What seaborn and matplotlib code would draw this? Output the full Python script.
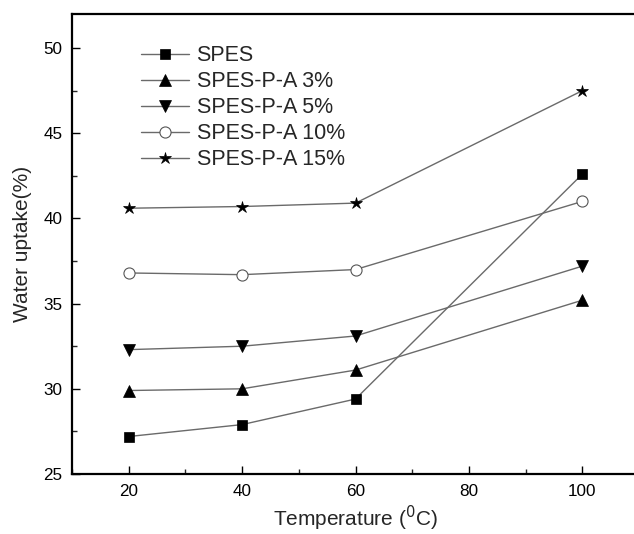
import matplotlib
matplotlib.use("Agg")
import matplotlib.pyplot as plt
import seaborn as sns
import pandas as pd
from matplotlib.ticker import MultipleLocator

temps = [20, 40, 60, 100]
spes = [27.2, 27.9, 29.4, 42.6]
pa3 = [29.9, 30.0, 31.1, 35.2]
pa5 = [32.3, 32.5, 33.1, 37.2]
pa10 = [36.8, 36.7, 37.0, 41.0]
pa15 = [40.6, 40.7, 40.9, 47.5]
labels = ["SPES", "SPES-P-A 3%", "SPES-P-A 5%", "SPES-P-A 10%", "SPES-P-A 15%"]

sns.set_style("ticks")
plt.rcParams['font.family'] = ['Liberation Sans', 'DejaVu Sans']

fig = plt.figure(figsize=(6.34, 5.34), dpi=100)
ax = fig.add_axes([72/634, 1-474/534, (639-72)/634, (474-14)/534])

series = [spes, pa3, pa5, pa10, pa15]
markers = ['s', '^', 'v', 'o', '*']
msizes = [6.5, 8, 8, 8, 9]
faces = ['black', 'black', 'black', 'white', 'black']
for vals, lab, m, ms, fc in zip(series, labels, markers, msizes, faces):
    sns.lineplot(x=temps, y=vals, ax=ax, label=lab, color='#6a6a6a', linewidth=1,
                 marker=m, markersize=ms, markerfacecolor=fc,
                 markeredgecolor='black' if fc == 'black' else '#555555',
                 markeredgewidth=0.8 if fc == 'white' else 0.5)

ax.set_xlim(10, 110)
ax.set_ylim(25, 52)
ax.set_xticks([20, 40, 60, 80, 100])
ax.set_yticks([25, 30, 35, 40, 45, 50])
ax.xaxis.set_minor_locator(MultipleLocator(10))
ax.yaxis.set_minor_locator(MultipleLocator(2.5))
ax.tick_params(which='major', direction='in', length=6, width=1, labelsize=12.3, colors='black', pad=7)
ax.tick_params(which='minor', direction='in', length=3.5, width=1)
ax.tick_params(top=False, right=False)
for s in ax.spines.values():
    s.set_linewidth(1.6)
    s.set_color('black')

ax.set_xlabel("Temperature ($^{0}$C)", fontsize=15, labelpad=4)
ax.set_ylabel("Water uptake(%)", fontsize=15, labelpad=8)

leg = ax.legend(loc='upper left', bbox_to_anchor=(0.122, 0.932), frameon=False,
                fontsize=15.5, handlelength=2.2, handletextpad=0.37, labelspacing=0.23,
                borderpad=0, borderaxespad=0)

fig.savefig("out.png", dpi=100)
